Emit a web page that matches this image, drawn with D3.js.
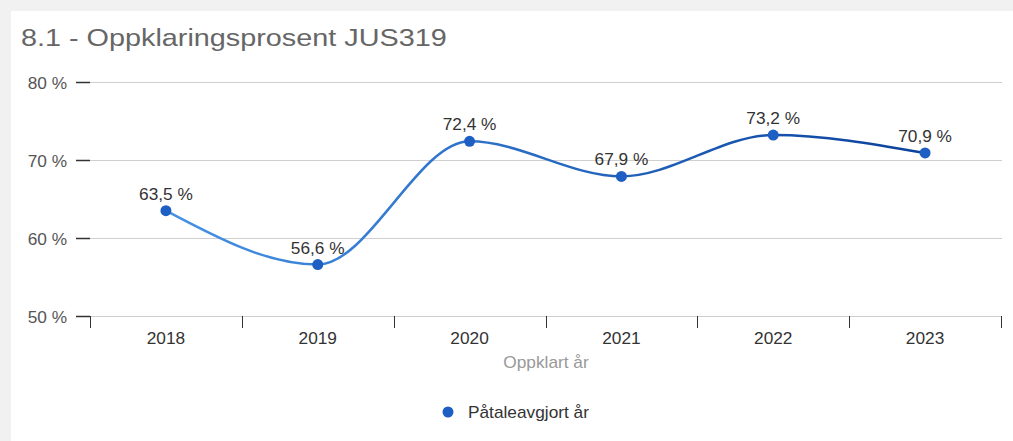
<!DOCTYPE html>
<html>
<head>
<meta charset="utf-8">
<script src="https://cdn.jsdelivr.net/npm/d3@7"></script>
<style>
  body { margin: 0; background: #f1f1f1; }
  svg { display: block; font-family: "Liberation Sans", Arial, sans-serif; }
</style>
</head>
<body>
<svg id="chart" width="1013" height="441"></svg>
<script>
// data
var years = ["2018", "2019", "2020", "2021", "2022", "2023"];
var values = [63.5, 56.6, 72.4, 67.9, 73.2, 70.9];
var yTicks = [50, 60, 70, 80];
var seriesName = "Påtaleavgjort år";
var xTitle = "Oppklart år";
var title = "8.1 - Oppklaringsprosent JUS319";

var margin = {top: 82, right: 11, bottom: 125, left: 90},
    width = 1013 - margin.left - margin.right,
    height = 441 - margin.top - margin.bottom;

var fmt = function(v) { return d3.format(".1f")(v).replace(".", ",") + " %"; };

// the reference text is a bit wider than plain Arial, so stretch it slightly
var SX = 1.08;
function label(sel, x, y, txt, size, color, anchor) {
  return sel.append("text")
      .attr("transform", "translate(" + x + "," + y + ") scale(" + SX + ",1)")
      .attr("text-anchor", anchor || "start")
      .attr("font-size", size)
      .attr("fill", color)
      .text(txt);
}

var svg = d3.select("#chart");

// white panel
svg.append("rect")
    .attr("x", 11).attr("y", 11)
    .attr("width", 1013).attr("height", 441)
    .attr("fill", "#fff");

svg.append("text")
    .attr("transform", "translate(21,46) scale(1.2,1)")
    .attr("font-size", 24)
    .attr("fill", "#666")
    .text(title);

var g = svg.append("g")
    .attr("transform", "translate(" + margin.left + "," + margin.top + ")");

var x = d3.scaleBand().domain(years).range([0, width - 1]);
var y = d3.scaleLinear().domain([50, 80]).range([234, 0]);
var cx = function(d) { return x(d) + x.bandwidth() / 2; };

// gradient for the line
var defs = svg.append("defs");
var grad = defs.append("linearGradient")
    .attr("id", "lineGrad")
    .attr("gradientUnits", "userSpaceOnUse")
    .attr("x1", cx(years[0])).attr("y1", 0)
    .attr("x2", cx(years[years.length - 1])).attr("y2", 0);
grad.append("stop").attr("offset", "0%").attr("stop-color", "#4592e6");
grad.append("stop").attr("offset", "100%").attr("stop-color", "#0a429c");

// gridlines
g.append("g")
  .selectAll("line")
  .data(yTicks)
  .enter().append("line")
    .attr("x1", 0).attr("x2", width)
    .attr("y1", function(d) { return y(d) + 0.5; })
    .attr("y2", function(d) { return y(d) + 0.5; })
    .attr("stroke", "#cfcfcf");

// y axis
var yAxis = g.append("g");
yAxis.selectAll("line")
  .data(yTicks)
  .enter().append("line")
    .attr("x1", -14).attr("x2", 0)
    .attr("y1", function(d) { return y(d) + 0.5; })
    .attr("y2", function(d) { return y(d) + 0.5; })
    .attr("stroke", "#333").attr("stroke-width", 1.5);
yTicks.forEach(function(d) {
  label(yAxis, -23, y(d) + 6.5, d + " %", 16, "#555", "end");
});

// x axis: ticks at band boundaries
var xAxis = g.append("g")
    .attr("transform", "translate(0," + y(50) + ")");
var bounds = years.map(function(d) { return x(d); }).concat([x(years[years.length - 1]) + x.bandwidth()]);
xAxis.selectAll("line")
  .data(bounds)
  .enter().append("line")
    .attr("x1", function(d) { return Math.round(d) + 0.5; })
    .attr("x2", function(d) { return Math.round(d) + 0.5; })
    .attr("y1", 0).attr("y2", 12)
    .attr("stroke", "#333");
years.forEach(function(d) {
  label(xAxis, cx(d), 28, d, 16, "#333", "middle");
});

label(g, width / 2, y(50) + 52, xTitle, 16, "#999", "middle");

// line
var data = years.map(function(d, i) { return {year: d, value: values[i]}; });
var line = d3.line()
    .x(function(d) { return cx(d.year); })
    .y(function(d) { return y(d.value); })
    .curve(d3.curveMonotoneX);

g.append("path")
    .datum(data)
    .attr("d", line)
    .attr("fill", "none")
    .attr("stroke", "url(#lineGrad)")
    .attr("stroke-width", 2.5);

g.selectAll("circle.pt")
  .data(data)
  .enter().append("circle")
    .attr("class", "pt")
    .attr("cx", function(d) { return cx(d.year); })
    .attr("cy", function(d) { return y(d.value); })
    .attr("r", 5.5)
    .attr("fill", "#1e5fc4");

data.forEach(function(d) {
  label(g, cx(d.year), y(d.value) - 11, fmt(d.value), 16, "#333", "middle");
});

// legend
var leg = svg.append("g").attr("transform", "translate(448,412)");
leg.append("circle").attr("r", 5.5).attr("fill", "#1e5fc4");
label(leg, 20, 6, seriesName, 16, "#333");
</script>
</body>
</html>
